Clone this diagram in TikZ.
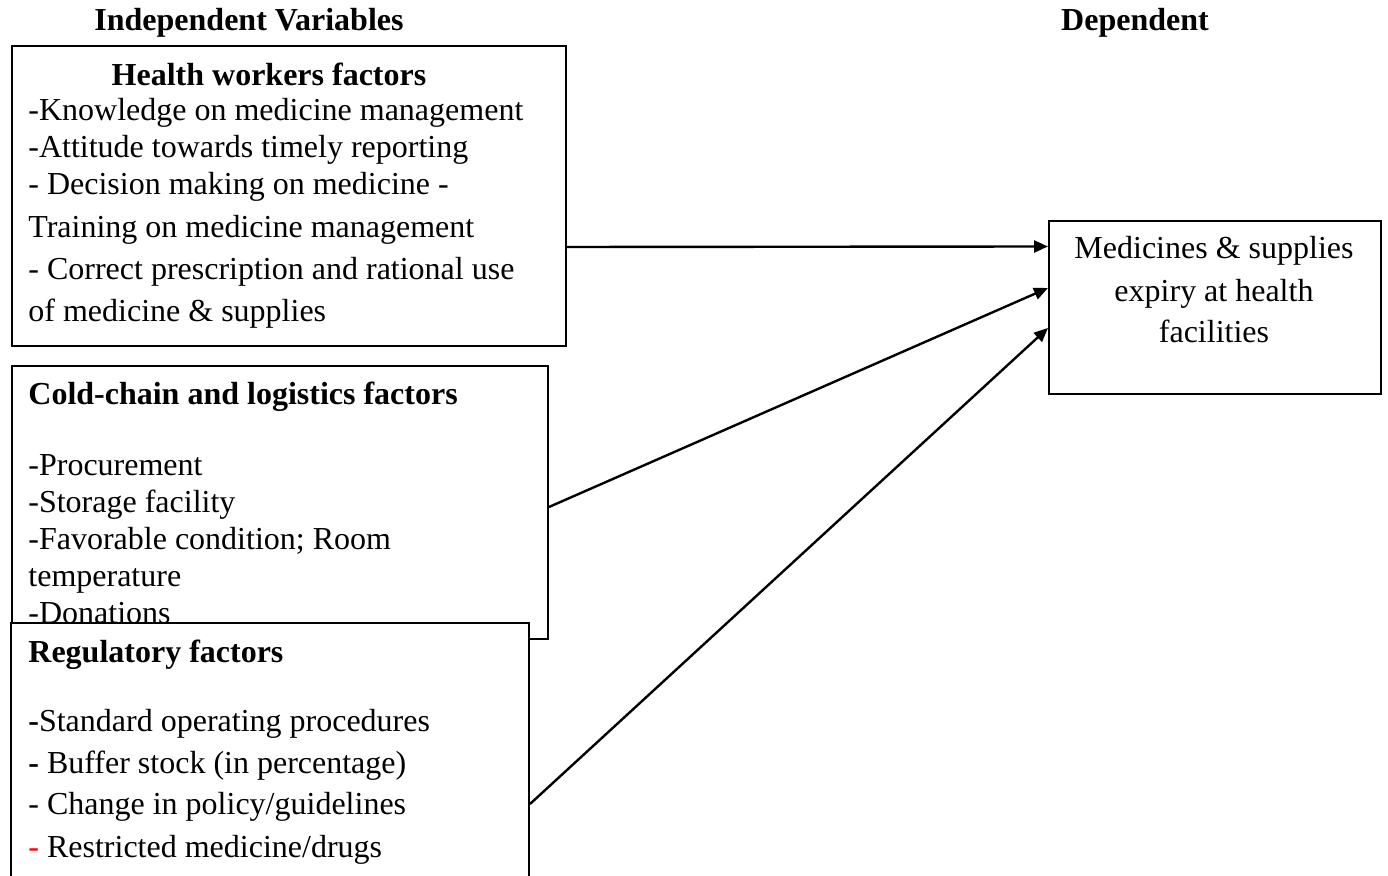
\documentclass[tikz,border=0pt]{standalone}
\usepackage{fontspec}
\setmainfont{Liberation Serif}
\usetikzlibrary{arrows.meta,positioning}

\begin{document}
\begin{tikzpicture}[x=0.5pt, y=-0.5pt, font=\fontsize{16}{18.5}\selectfont,
    box/.style = {draw, line width=1pt, fill=white, anchor=north west, inner sep=0pt},
    body/.style = {anchor=base west, align=left, inner sep=0pt},
    head/.style = {font=\fontsize{16}{18.5}\selectfont\bfseries, inner sep=0pt, anchor=base},
    link/.style = {line width=1.2pt, -{Triangle[length=7pt,width=6pt]}}]

    \useasboundingbox (0,0) rectangle (1388,876);
    \clip (0,0) rectangle (1388,876);

    % titles
    \node[head] (indep) at (249,31) {Independent Variables};
    \node[head] (depend) at (1135,31) {Dependent};

    % health workers (base = last line)
    \node[box, minimum width=277pt, minimum height=150pt] (hw) at (11,45) {};
    \node[head] (hwtitle) at (269,86) {Health workers factors};
    \node[body] (hwtext) at (28,322) {-Knowledge on medicine management\\
        -Attitude towards timely reporting\\
        - Decision making on medicine -\\[3pt]
        Training on medicine management\\[2.5pt]
        - Correct prescription and rational use\\[2.5pt]
        of medicine \& supplies};

    % cold chain
    \node[box, minimum width=268pt, minimum height=136.5pt] (cold) at (11,365) {};
    \node[head, anchor=base west] (coldtitle) at (28,405) {Cold-chain and logistics factors};
    \node[body] (coldtext) at (28,624) {-Procurement\\
        -Storage facility\\
        -Favorable condition; Room\\
        temperature\\
        -Donations};

    % regulatory
    \node[box, minimum width=259pt, minimum height=154pt] (reg) at (10,622) {};
    \node[head, anchor=base west] (regtitle) at (28,663) {Regulatory factors};
    \node[body] (regtext) at (28,857) {\textbf{-}Standard operating procedures\\[2.5pt]
        \textbf{-} Buffer stock (in percentage)\\[2.5pt]
        - Change in policy/guidelines\\[2.5pt]
        \textcolor{red}{-} Restricted medicine/drugs};

    % outcome
    \node[box, minimum width=166pt, minimum height=86.5pt] (out) at (1048,220) {};
    \node[anchor=base, align=center, inner sep=0pt] (outtext) at (1214,343) {Medicines \& supplies\\[3pt]
        expiry at health\\[2pt]
        facilities};

    % links
    \draw[link] ([yshift=-25.5pt]hw.east) -- ([yshift=30.5pt]out.west);
    \draw[link] ([yshift=-2.25pt]cold.east) -- ([yshift=9.75pt]out.west);
    \draw[link] ([yshift=-13.5pt]reg.east) -- ([yshift=-10.25pt]out.west);

\end{tikzpicture}
\end{document}
